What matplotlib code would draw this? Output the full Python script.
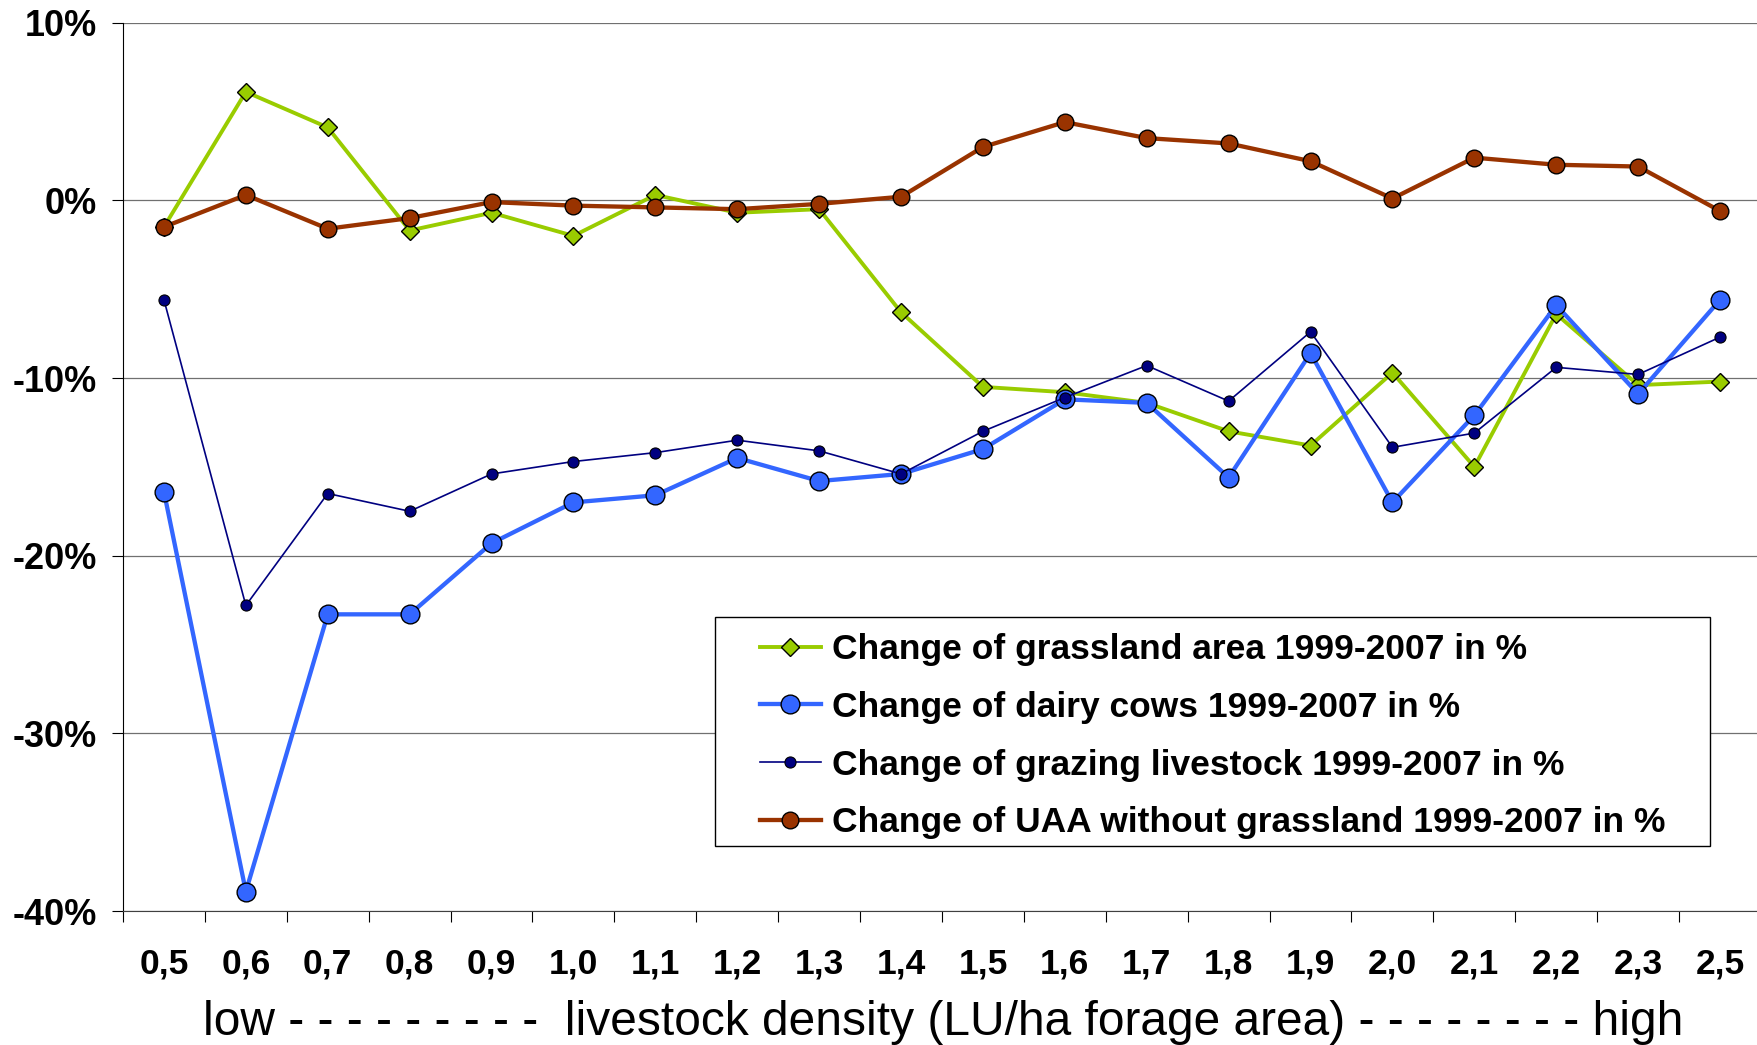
import numpy as np
import matplotlib
matplotlib.use("Agg")
import matplotlib.pyplot as plt
from matplotlib.patches import Rectangle

plt.rcParams['font.family'] = ['Liberation Sans', 'DejaVu Sans']

# livestock density classes (LU/ha forage area)
categories = ['0,5', '0,6', '0,7', '0,8', '0,9', '1,0', '1,1', '1,2', '1,3', '1,4',
              '1,5', '1,6', '1,7', '1,8', '1,9', '2,0', '2,1', '2,2', '2,3', '2,5']

# change 1999-2007 in %
grassland = [-1.5, 6.1, 4.1, -1.7, -0.7, -2.0, 0.3, -0.7, -0.5, -6.3,
             -10.5, -10.8, -11.4, -13.0, -13.8, -9.7, -15.0, -6.4, -10.4, -10.2]
dairy_cows = [-16.4, -38.9, -23.3, -23.3, -19.3, -17.0, -16.6, -14.5, -15.8, -15.4,
              -14.0, -11.2, -11.4, -15.6, -8.6, -17.0, -12.1, -5.9, -10.9, -5.6]
grazing = [-5.6, -22.8, -16.5, -17.5, -15.4, -14.7, -14.2, -13.5, -14.1, -15.4,
           -13.0, -11.1, -9.3, -11.3, -7.4, -13.9, -13.1, -9.4, -9.8, -7.7]
uaa_no_grass = [-1.5, 0.3, -1.6, -1.0, -0.1, -0.3, -0.4, -0.5, -0.2, 0.2,
                3.0, 4.4, 3.5, 3.2, 2.2, 0.1, 2.4, 2.0, 1.9, -0.6]

labels = ['Change of grassland area 1999-2007 in %',
          'Change of dairy cows 1999-2007 in %',
          'Change of grazing livestock 1999-2007 in %',
          'Change of UAA without grassland 1999-2007 in %']

W, H = 1758, 1045
fig = plt.figure(figsize=(W / 100, H / 100), dpi=100)
ax = fig.add_axes([123 / W, 133.9 / H, (1761 - 123) / W, (911.1 - 22.6) / H])

x = np.arange(len(categories))

ax.plot(x, grassland, color='#99CC00', lw=2.8, marker='D', ms=9.5,
        mfc='#99CC00', mec='black', mew=1.0, label=labels[0], zorder=3)
ax.plot(x, dairy_cows, color='#3366FF', lw=3.1, marker='o', ms=13.5,
        mfc='#3366FF', mec='black', mew=1.0, label=labels[1], zorder=3)
ax.plot(x, grazing, color='#000080', lw=1.2, marker='o', ms=8,
        mfc='#000080', mec='black', mew=0.8, label=labels[2], zorder=3)
ax.plot(x, uaa_no_grass, color='#993300', lw=3.1, marker='o', ms=12,
        mfc='#993300', mec='black', mew=1.0, label=labels[3], zorder=3)

ax.set_xlim(-0.5, len(categories) - 0.5)
ax.set_ylim(-40, 10)

# y axis
ax.set_yticks(np.arange(-40, 11, 10))
ax.set_yticklabels([f'{v}%' for v in range(-40, 11, 10)])
ax.tick_params(axis='y', direction='out', length=8, width=0.8, pad=11,
               labelsize=26)
for lab in ax.get_yticklabels():
    lab.set_fontweight('bold')
ax.yaxis.grid(True, color='#707070', lw=0.9)
ax.set_axisbelow(True)

# x axis: ticks between categories, labels centred
ax.set_xticks(np.arange(-0.5, len(categories), 1.0))
ax.set_xticklabels([])
ax.set_xticks(x, minor=True)
ax.set_xticklabels(categories, minor=True, fontsize=25.5, fontweight='bold')
ax.tick_params(axis='x', which='major', direction='out', length=8, width=0.8)
ax.tick_params(axis='x', which='minor', length=0, pad=26)

for s in ['top', 'right']:
    ax.spines[s].set_visible(False)
ax.spines['left'].set_color('black')
ax.spines['bottom'].set_color('#404040')

fig.text(943 / W, 10 / H,
         'low - - - - - - - - -  livestock density (LU/ha forage area) - - - - - - - - high',
         ha='center', va='baseline', fontsize=34.5)

# legend box
box = Rectangle((715 / W, 1 - 846 / H), (1710 - 715) / W, (846 - 617) / H,
                transform=fig.transFigure, facecolor='white', edgecolor='black',
                lw=1.0, zorder=4.5, clip_on=False)
ax.add_patch(box)
leg = ax.legend(loc='upper left', bbox_to_anchor=(760 / W, 1 - 633 / H),
                bbox_transform=fig.transFigure, frameon=False, borderpad=0,
                borderaxespad=0, handlelength=1.72, handletextpad=0.3,
                labelspacing=0.7, prop={'size': 25.5, 'weight': 'bold'})
leg.set_zorder(5)

fig.savefig('out.png', dpi=100)
